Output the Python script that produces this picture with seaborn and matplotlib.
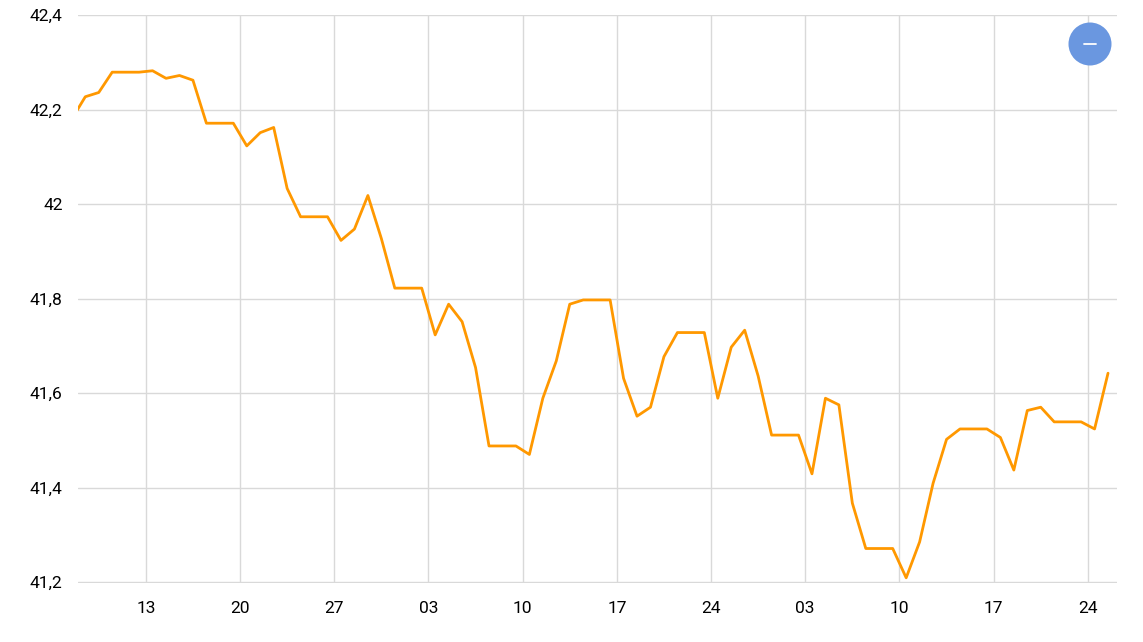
import numpy as np
import pandas as pd
import matplotlib
matplotlib.use("Agg")
import matplotlib.pyplot as plt
import matplotlib.dates as mdates
from matplotlib.patches import Circle
from matplotlib.lines import Line2D
from matplotlib.ticker import FuncFormatter
import seaborn as sns

# Valores diarios (fines de semana repiten el viernes)
fechas = pd.date_range("2025-01-07 12:00", "2025-03-25 12:00", freq="D")
valores = [
    42.180, 42.227, 42.236, 42.279, 42.279, 42.279,            # 7-12 ene
    42.282, 42.266, 42.272, 42.262, 42.171, 42.171, 42.171,    # 13-19
    42.123, 42.151, 42.162, 42.033, 41.973, 41.973, 41.973,    # 20-26
    41.923, 41.947, 42.018, 41.927, 41.822, 41.822, 41.822,    # 27 ene - 2 feb
    41.723, 41.788, 41.751, 41.654, 41.488, 41.488, 41.488,    # 3-9 feb
    41.470, 41.589, 41.668, 41.788, 41.797, 41.797, 41.797,    # 10-16
    41.631, 41.551, 41.570, 41.677, 41.728, 41.728, 41.728,    # 17-23
    41.589, 41.697, 41.733, 41.636, 41.511, 41.511, 41.511,    # 24 feb - 2 mar
    41.429, 41.589, 41.575, 41.367, 41.271, 41.271, 41.271,    # 3-9 mar
    41.209, 41.285, 41.409, 41.502, 41.524, 41.524, 41.524,    # 10-16
    41.506, 41.437, 41.563, 41.570, 41.539, 41.539, 41.539,    # 17-23
    41.524, 41.642,                                            # 24-25
]
y_ticks = [41.2, 41.4, 41.6, 41.8, 42.0, 42.2, 42.4]
x_ticks = ["2025-01-13", "2025-01-20", "2025-01-27", "2025-02-03", "2025-02-10",
           "2025-02-17", "2025-02-24", "2025-03-03", "2025-03-10", "2025-03-17",
           "2025-03-24"]

df = pd.DataFrame({"fecha": fechas, "valor": valores})

sns.set_style("white")
plt.rcParams["font.family"] = ["Roboto", "DejaVu Sans"]

fig = plt.figure(figsize=(11.43, 6.42), dpi=100)
ax = fig.add_axes([78 / 1143, 59 / 642, 1039 / 1143, 568 / 642])

sns.lineplot(data=df, x="fecha", y="valor", ax=ax, color="#FF9800", linewidth=2)

ax.set_xlim(pd.Timestamp("2025-01-07 23:00"), pd.Timestamp("2025-03-26 04:00"))
ax.set_ylim(41.198, 42.4)
ax.set_yticks(y_ticks)

def fmt(v, pos):
    s = f"{v:.1f}"
    if s.endswith(".0"):
        s = s[:-2]
    return s.replace(".", ",")

ax.yaxis.set_major_formatter(FuncFormatter(fmt))
ax.set_xticks([pd.Timestamp(d) for d in x_ticks])
ax.xaxis.set_major_formatter(mdates.DateFormatter("%d"))

ax.set_xlabel("")
ax.set_ylabel("")
ax.grid(True, color="#d9d9d9", linewidth=1)
ax.set_axisbelow(True)
for s in ax.spines.values():
    s.set_visible(False)
ax.tick_params(axis="both", length=0, labelsize=12.5, colors="#000000")
ax.tick_params(axis="y", pad=11)
ax.tick_params(axis="x", pad=13)

# botón azul
fig.add_artist(Circle((10.90, 5.98), 0.215, transform=fig.dpi_scale_trans,
                      facecolor="#6a97e0", edgecolor="none"))
fig.add_artist(Line2D([10.84, 10.96], [5.98, 5.98], transform=fig.dpi_scale_trans,
                      color="white", linewidth=1.3))

fig.savefig("out.png", dpi=100)
